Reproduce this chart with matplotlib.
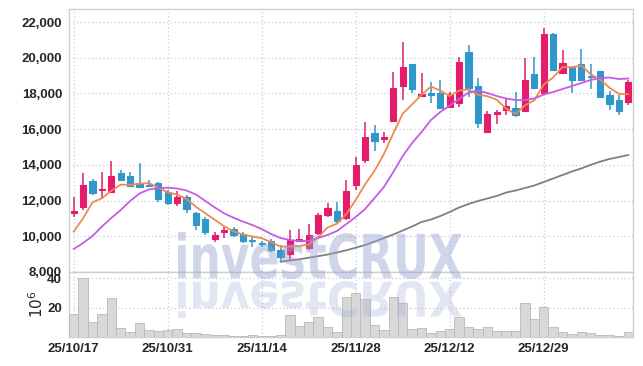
import numpy as np
import pandas as pd
import matplotlib
matplotlib.use('Agg')
import matplotlib.pyplot as plt
from matplotlib.textpath import TextPath
from matplotlib.patches import PathPatch
from matplotlib.font_manager import FontProperties
from matplotlib.transforms import Affine2D, IdentityTransform
from matplotlib.ticker import FuncFormatter, FixedLocator

# ---------------- data ----------------
holidays = ['2025-12-25', '2025-12-31', '2026-01-01']
tick_dates = ['2025-10-17', '2025-10-31', '2025-11-14', '2025-11-28', '2025-12-12', '2025-12-29']

opens = [11300, 11620, 13100, 12590, 12500, 13530, 13380, 12970, 12890, 12970,
         12500, 11850, 12220, 11290, 10970, 9850, 10220, 10390, 10130, 9790,
         9620, 9750, 9230, 8990, 9730, 9330, 10170, 11190, 11430, 11040,
         12870, 14270, 15800, 15430, 16460, 18420, 19630, 17860, 18040, 18010,
         17220, 17480, 20340, 18420, 15860, 16870, 17070, 17170, 17030, 19090,
         18010, 21330, 19130, 19460, 19660, 19000, 19260, 17910, 17630, 17500]
highs = [12220, 13560, 13190, 13620, 14220, 13700, 13620, 14100, 13150, 13020,
         12590, 12550, 12310, 11380, 11100, 10260, 10540, 10540, 10260, 9940,
         9750, 9850, 9500, 10370, 10390, 10700, 11300, 11850, 11940, 13150,
         14460, 16380, 16230, 15860, 19180, 20860, 19630, 19130, 18620, 18750,
         18100, 20020, 20710, 18850, 17000, 17050, 17730, 18100, 19970, 20020,
         21650, 21400, 20430, 19500, 20490, 19630, 19260, 18150, 17910, 18750]
lows = [11100, 11470, 12310, 12070, 12410, 13110, 12780, 12690, 12780, 11940,
        11750, 11700, 11290, 10350, 10070, 9700, 9890, 9980, 9640, 9420,
        9400, 9140, 8600, 8600, 9700, 9240, 10100, 11100, 10730, 10900,
        12590, 14090, 14790, 15210, 16420, 17630, 18040, 17820, 17480, 17170,
        17170, 17220, 17820, 16050, 15830, 16290, 16790, 16700, 16990, 18250,
        17920, 19290, 19070, 18010, 18680, 18250, 17780, 17070, 16790, 17340]
closes = [11420, 12870, 12410, 12650, 13380, 13150, 12820, 12740, 12820, 12090,
          11850, 12180, 11510, 10630, 10260, 10070, 10350, 10070, 9750, 9720,
          9580, 9230, 8820, 9790, 9830, 10070, 11190, 11570, 10870, 12540,
          13990, 15580, 15340, 15580, 18320, 19500, 18230, 17970, 17910, 17200,
          17970, 19780, 18290, 16360, 16850, 16960, 17300, 16790, 18750, 18290,
          21330, 19310, 19690, 18740, 18740, 18900, 17820, 17410, 17030, 18620]
ma5 = [10260, 11010, 11900, 12130, 12546, 12892, 12882, 12948, 12982, 12724,
       12464, 12336, 12090, 11652, 11286, 10930, 10564, 10276, 10100, 9992,
       9894, 9670, 9420, 9428, 9450, 9548, 9940, 10490, 10706, 11248,
       12032, 12910, 13664, 14606, 15762, 16864, 17394, 17920, 18386, 18162,
       17856, 18166, 18230, 17920, 17850, 17648, 17152, 16852, 17330, 17618,
       18492, 18894, 19474, 19472, 19562, 19076, 18778, 18322, 17980, 17956]
ma20 = [9288, 9624, 10016, 10548, 11024, 11472, 11976, 12396, 12620, 12704,
        12721, 12676, 12564, 12340, 11980, 11620, 11287, 11041, 10828, 10632,
        10408, 10128, 9904, 9792, 9736, 9736, 9904, 10072, 10296, 10688,
        11080, 11528, 12144, 12760, 13600, 14496, 15224, 15840, 16512, 16960,
        17324, 17688, 18052, 18164, 18024, 17856, 17716, 17632, 17632, 17716,
        17940, 18080, 18248, 18416, 18584, 18752, 18864, 18892, 18808, 18836]
ma60 = [np.nan] * 22 + [
        8577, 8644, 8711, 8801, 8885, 8980, 9092, 9215,
        9361, 9512, 9697, 9904, 10100, 10324, 10548, 10800, 10940, 11136,
        11360, 11612, 11808, 11976, 12116, 12256, 12452, 12564, 12704, 12844,
        13040, 13236, 13432, 13628, 13800, 14000, 14180, 14330, 14440, 14552]
volumes = [15.6, 40.0, 10.2, 15.6, 26.4, 6.1, 3.8, 9.5, 4.7, 4.1,
           4.7, 5.4, 2.7, 2.7, 2.0, 1.4, 1.6, 1.2, 1.0, 1.4,
           1.2, 1.0, 1.6, 15.1, 7.7, 10.2, 13.6, 6.8, 3.4, 27.5,
           29.8, 25.8, 8.3, 4.7, 27.1, 23.5, 5.4, 6.1, 3.1, 4.5,
           5.4, 13.6, 6.8, 5.4, 6.8, 4.1, 4.1, 4.1, 23.5, 12.2,
           20.3, 6.8, 3.8, 2.0, 3.8, 2.7, 1.4, 1.4, 0.9, 3.4]

dates = [d for d in pd.bdate_range('2025-10-17', '2026-02-28')
         if d.strftime('%Y-%m-%d') not in holidays][:len(closes)]
date_str = [d.strftime('%Y-%m-%d') for d in dates]

# ---------------- style ----------------
UP = '#e31c6b'
DOWN = '#2f97c9'
GRID = '#c9cce0'
SPINE = '#cfcfcf'
TXT = '#262626'
TICK_FAMILY = ['Liberation Sans', 'DejaVu Sans']

W, H = 643, 366
fig = plt.figure(figsize=(W / 100, H / 100), dpi=100)
L = 69 / W
R = 633 / W
ax = fig.add_axes([L, 1 - 272 / H, R - L, (272 - 9) / H])
axv = fig.add_axes([L, 1 - 337.3 / H, R - L, (337.3 - 272) / H], sharex=ax)

x = np.arange(len(closes))

# candles
for i in x:
    o, h, l, c = opens[i], highs[i], lows[i], closes[i]
    col = UP if c >= o else DOWN
    ax.vlines(i, l, h, color=col, lw=1.1, zorder=3)
    ax.bar(i, max(abs(c - o), 1), bottom=min(o, c), width=0.68, color=col,
           edgecolor=col, linewidth=0.8, zorder=4)

ax.plot(x, ma5, color='#ef8a4f', lw=1.3, zorder=5)
ax.plot(x, ma20, color='#c75ae8', lw=1.3, zorder=5)
ax.plot(x, ma60, color='#808080', lw=1.3, zorder=5)

ax.set_ylim(8000, 22730)
ax.set_xlim(-0.5, len(closes) - 0.5)
ax.yaxis.set_major_locator(FixedLocator(np.arange(8000, 22001, 2000)))
ax.yaxis.set_major_formatter(FuncFormatter(lambda v, p: f'{int(v):,}'))

tick_idx = [date_str.index(t) for t in tick_dates]
tick_lab = [pd.Timestamp(t).strftime('%y/%m/%d') for t in tick_dates]
ax.xaxis.set_major_locator(FixedLocator(tick_idx))

# volume
axv.bar(x, volumes, width=1.0, color='#d8d8d8', edgecolor='#b9b9b9', linewidth=0.6, zorder=3)
axv.set_ylim(0, 44.3)
axv.yaxis.set_major_locator(FixedLocator([20, 40]))
axv.set_xticks(tick_idx)
axv.set_xticklabels(tick_lab)
axv.set_ylabel(r'$10^6$', fontsize=11, color=TXT)
axv.yaxis.set_label_coords(-0.04, 0.5)

for a in (ax, axv):
    a.grid(True, color=GRID, linestyle=(0, (1, 2)), linewidth=0.9, zorder=0)
    a.set_axisbelow(True)
    a.tick_params(length=0, pad=5, colors=TXT)
    for lab in a.get_yticklabels() + a.get_xticklabels():
        lab.set_fontfamily(TICK_FAMILY)
        lab.set_fontweight('bold')
        lab.set_fontsize(9.5)
    for s in a.spines.values():
        s.set_color(SPINE)
        s.set_linewidth(1.0)
plt.setp(ax.get_xticklabels(), visible=False)
axv.tick_params(axis='x', pad=4)

# watermark "investCRUX" with reflection
fp = FontProperties(family='DejaVu Sans', weight='bold')
tp = TextPath((0, 0), 'investCRUX', size=100, prop=fp)
ext = tp.get_extents()
X0, X1 = 178, 462
sx = (X1 - X0) / ext.width
top_main, base_main = H - 232, H - 279
sy = (top_main - base_main) / ext.height
tr_main = Affine2D().translate(-ext.x0, -ext.y0).scale(sx, sy).translate(X0, base_main)
fig.add_artist(PathPatch(tp, transform=tr_main + IdentityTransform(),
                         facecolor='#98a3d2', edgecolor='none', alpha=0.45, zorder=10))
base_ref = H - 281
sy_r = 37 / ext.height
tr_ref = Affine2D().translate(-ext.x0, -ext.y0).scale(sx, -sy_r).translate(X0, base_ref)
fig.add_artist(PathPatch(tp, transform=tr_ref + IdentityTransform(),
                         facecolor='#98a3d2', edgecolor='none', alpha=0.28, zorder=10))

fig.savefig('out.png', dpi=100)
